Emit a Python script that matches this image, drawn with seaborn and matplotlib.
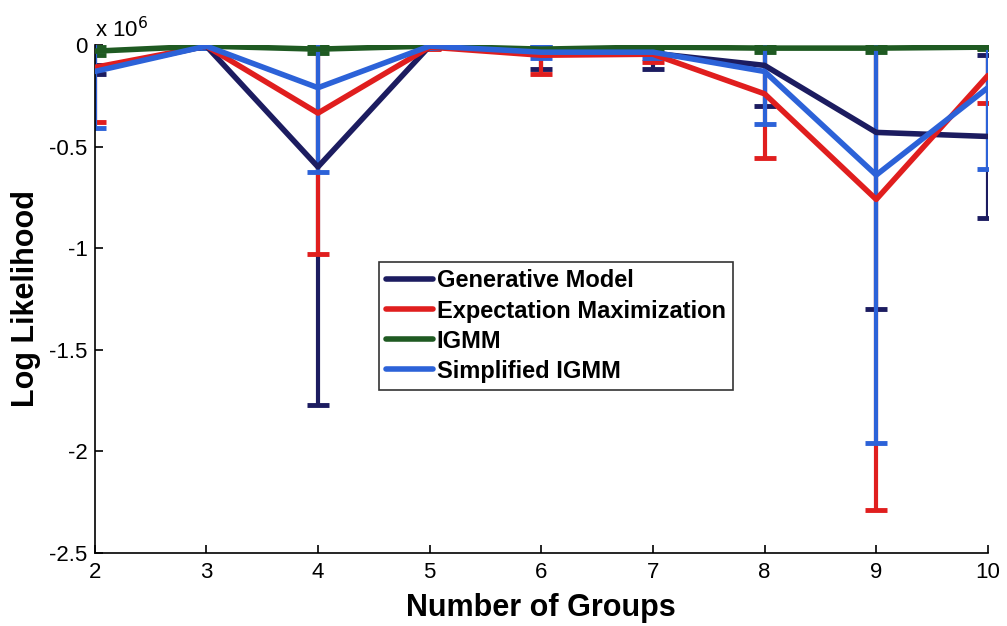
import numpy as np
import pandas as pd
import matplotlib
matplotlib.use("Agg")
import matplotlib.pyplot as plt
import seaborn as sns

# Data (log likelihood in units of 1e6)
groups = [2, 3, 4, 5, 6, 7, 8, 9, 10]
gen_model = [-0.12, -0.005, -0.60, -0.005, -0.045, -0.04, -0.10, -0.43, -0.45]
gen_err = [0.02, 0.01, 1.17, 0.01, 0.075, 0.08, 0.20, 0.87, 0.40]
em = [-0.11, -0.005, -0.335, -0.01, -0.05, -0.045, -0.24, -0.76, -0.15]
em_err = [0.27, 0.01, 0.695, 0.01, 0.09, 0.04, 0.315, 1.53, 0.135]
igmm = [-0.03, -0.005, -0.02, -0.005, -0.02, -0.01, -0.015, -0.015, -0.01]
igmm_err = [0.02, 0.01, 0.02, 0.01, 0.02, 0.01, 0.02, 0.02, 0.01]
simp = [-0.13, -0.005, -0.21, -0.005, -0.035, -0.035, -0.13, -0.64, -0.21]
simp_err = [0.28, 0.01, 0.415, 0.01, 0.03, 0.03, 0.26, 1.32, 0.40]

names = ["Generative Model", "Expectation Maximization", "IGMM", "Simplified IGMM"]
colors = ["#1c1c60", "#e01e1e", "#1f5a22", "#2c62d8"]

sns.set_theme(style="white")
plt.rcParams['font.family'] = ['Liberation Sans', 'DejaVu Sans']
plt.rcParams.update({"text.color": "black", "axes.labelcolor": "black",
                     "xtick.color": "black", "ytick.color": "black"})

fig, ax = plt.subplots(figsize=(10.07, 6.26), dpi=100)
fig.subplots_adjust(left=0.094, right=0.981, top=0.928, bottom=0.117)

series = [gen_model, em, igmm, simp]
errs = [gen_err, em_err, igmm_err, simp_err]
frames = []
for n, v in zip(names, series):
    frames.append(pd.DataFrame({"groups": groups, "ll": v, "method": n}))
df = pd.concat(frames, ignore_index=True)

for n, v, e, c in zip(names, series, errs, colors):
    ax.errorbar(groups, v, yerr=e, fmt="none", ecolor=c, elinewidth=3.0,
                capsize=8, capthick=3.5, zorder=2)
    sns.lineplot(data=df[df.method == n], x="groups", y="ll", color=c,
                 linewidth=4, ax=ax, label=n, zorder=3, legend=True)

ax.set_xlim(2, 10)
ax.set_ylim(-2.5, 0)
ax.set_xticks(groups)
ax.set_yticks([-2.5, -2, -1.5, -1, -0.5, 0])
ax.set_yticklabels(["-2.5", "-2", "-1.5", "-1", "-0.5", "0"])
ax.tick_params(direction="in", length=6, width=1.2, labelsize=16, colors="black",
               left=True, bottom=True)
ax.tick_params(axis="x", pad=7)
ax.tick_params(axis="y", pad=5)
for s in ["top", "right"]:
    ax.spines[s].set_visible(False)
for s in ["left", "bottom"]:
    ax.spines[s].set_color("black")
    ax.spines[s].set_linewidth(1.2)

ax.set_xlabel("Number of Groups", fontsize=22, fontweight="bold", labelpad=7)
ax.set_ylabel("Log Likelihood", fontsize=22, fontweight="bold", labelpad=6)
ax.text(0.0, 1.006, r"x 10$^6$", transform=ax.transAxes, fontsize=16,
        ha="left", va="bottom")

leg = ax.legend(loc="lower left", bbox_to_anchor=(0.318, 0.321), frameon=True,
                fancybox=False, edgecolor="black", handlelength=2.0,
                handletextpad=0.15, borderpad=0.3, labelspacing=0.3,
                borderaxespad=0.0,
                prop={"weight": "bold", "size": 17})
leg.get_frame().set_linewidth(1.2)

fig.savefig("out.png", dpi=100)
